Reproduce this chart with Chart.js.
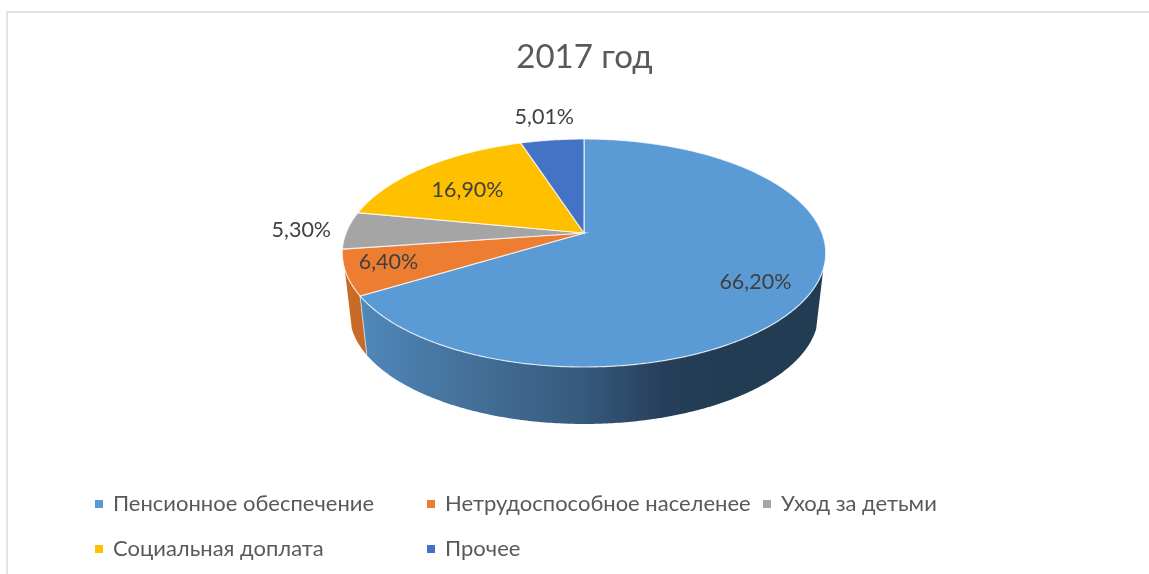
<!DOCTYPE HTML>
<html>
<head>
  <title>2017 год</title>
  <meta charset="utf-8">
  <script src="https://cdn.jsdelivr.net/npm/chart.js"></script>
  <style>
    body { margin: 0; background: #fff; }
    #frame { position: absolute; left: 6px; top: 11px; right: 0; bottom: 0; border-left: 2px solid #e3e3e3; border-top: 2px solid #e3e3e3; }
    #wrap { position: absolute; left: 0; top: 0; width: 1149px; height: 574px; }
  </style>
</head>
<body>
  <div id="frame"></div>
  <div id="wrap"><canvas id="chart" width="1149" height="574"></canvas></div>
  <script>
    const categories = ['Пенсионное обеспечение', 'Нетрудоспособное населенее', 'Уход за детьми', 'Социальная доплата', 'Прочее'];
    const shares = [66.20, 6.40, 5.30, 16.90, 5.01];
    const shareLabels = ['66,20%', '6,40%', '5,30%', '16,90%', '5,01%'];
    const colors = ['#5b9bd5', '#ed7d31', '#a5a5a5', '#ffc000', '#4472c4'];

    // how far out each value label sits, 1 = on the rim, plus a small pixel nudge
    const labelRadius = [0.78, 0.87, 1.19, 0.68, 1.3];
    const labelNudge = [[-2, 4], [10, -5], [-1, 0], [-4, 3], [0, 0]];
    // legend rows and columns, same order as categories
    const legendPos = [[95, 504], [427, 504], [763, 504], [95, 549], [427, 549]];

    // fake 3d: the disc is projected by hand, angles come from the arc elements
    const view = { cx: 584, cy: 233, a: 238, b: 110.5, k: 0.1754, depth: 61, shrink: 0.97 };
    const sideFrom = 18 * Math.PI / 180, sideTo = 162 * Math.PI / 180;

    function project(angle, r, bottom) {
      const u = r * Math.cos(angle), v = r * Math.sin(angle);
      const w = 1 - view.k * v, s = bottom ? view.shrink : 1;
      return { x: view.cx + s * view.a * u / w, y: view.cy + (bottom ? view.depth : 0) + s * view.b * v / w };
    }

    function rim(ctx, from, to, bottom) {
      const steps = Math.max(2, Math.ceil(Math.abs(to - from) / 0.01));
      for (let i = 0; i <= steps; i++) {
        const p = project(from + (to - from) * i / steps, 1, bottom);
        ctx.lineTo(p.x, p.y);
      }
    }

    const disc3d = {
      id: 'disc3d',
      beforeDatasetDraw(chart, args) {
        const ctx = chart.ctx, arcs = args.meta.data;
        ctx.save();

        // sides first, nearest slice last
        const grad = ctx.createLinearGradient(360, 0, 720, 0);
        grad.addColorStop(0, '#4f88bb');
        grad.addColorStop(0.3, '#447099');
        grad.addColorStop(0.62, '#365a7d');
        grad.addColorStop(0.84, '#273f5a');
        grad.addColorStop(1, '#223c53');
        for (let i = arcs.length - 1; i >= 0; i--) {
          const from = Math.max(arcs[i].startAngle, sideFrom), to = Math.min(arcs[i].endAngle, sideTo);
          if (to <= from) continue;
          ctx.beginPath();
          rim(ctx, from, to, false);
          rim(ctx, to, from, true);
          ctx.closePath();
          ctx.fillStyle = i === 0 ? grad : '#c96a28';
          ctx.fill();
        }

        // light seam where the big slice ends on the side
        const seamTop = project(arcs[0].endAngle, 1, false), seamEnd = project(arcs[0].endAngle, 1, true);
        ctx.beginPath();
        ctx.moveTo(seamTop.x, seamTop.y);
        ctx.lineTo(seamEnd.x, seamEnd.y);
        ctx.strokeStyle = '#c9d3dc';
        ctx.lineWidth = 1;
        ctx.stroke();

        // top face
        arcs.forEach((arc, i) => {
          ctx.beginPath();
          ctx.moveTo(view.cx, view.cy);
          rim(ctx, arc.startAngle, arc.endAngle, false);
          ctx.closePath();
          ctx.fillStyle = colors[i];
          ctx.fill();
          ctx.strokeStyle = 'rgba(255,255,255,0.75)';
          ctx.lineWidth = 1.2;
          ctx.stroke();
        });

        // value labels
        ctx.font = '21.5px Lato, "Noto Sans"';
        ctx.fillStyle = '#404040';
        ctx.textAlign = 'center';
        ctx.textBaseline = 'middle';
        arcs.forEach((arc, i) => {
          const p = project((arc.startAngle + arc.endAngle) / 2, labelRadius[i], false);
          ctx.fillText(shareLabels[i], p.x + labelNudge[i][0], p.y + labelNudge[i][1]);
        });

        // legend
        ctx.font = '22px Lato, "Noto Sans"';
        ctx.textAlign = 'left';
        categories.forEach((name, i) => {
          const [x, y] = legendPos[i];
          ctx.fillStyle = colors[i];
          ctx.fillRect(x, y - 4, 8, 8);
          ctx.fillStyle = '#595959';
          ctx.fillText(name, x + 18, y);
        });

        ctx.restore();
        return false;
      }
    };

    new Chart(document.getElementById('chart'), {
      type: 'pie',
      plugins: [disc3d],
      data: {
        labels: categories,
        datasets: [{ data: shares, backgroundColor: colors }]
      },
      options: {
        responsive: false,
        animation: false,
        layout: { padding: { left: 20 } },
        plugins: {
          legend: { display: false },
          tooltip: { enabled: false },
          title: {
            display: true,
            text: '2017 год',
            color: '#595959',
            font: { family: 'Lato, "Noto Sans"', size: 33, weight: 'normal' },
            padding: { top: 38, bottom: 0 }
          }
        }
      }
    });
  </script>
</body>
</html>
